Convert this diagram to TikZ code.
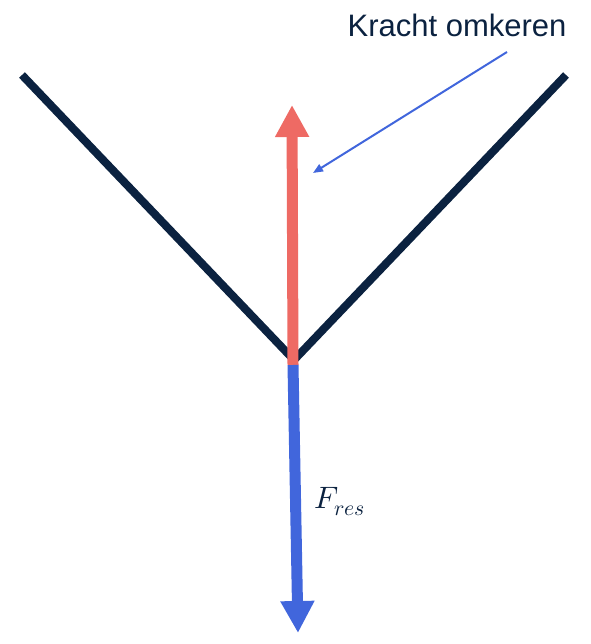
\documentclass[tikz,border=0pt]{standalone}
\usepackage{fontspec}
\usepackage{unicode-math}
\setmainfont{Liberation Sans}
\setmathfont{Latin Modern Math}
\usetikzlibrary{arrows.meta}
\definecolor{navy}{HTML}{0B2240}
\definecolor{redarrow}{HTML}{EE6A64}
\definecolor{bluearrow}{HTML}{4166DC}

\begin{document}
\begin{tikzpicture}[x=1pt,y=-1pt,
    force/.style={line width=11pt,-{Triangle[width=32pt,length=32pt]}},
    pointer/.style={line width=2pt,bluearrow,-{Triangle[width=8pt,length=10pt]}}]
    \useasboundingbox (0,0) rectangle (590,644);

 % Points of the V
    \coordinate (lefttop) at (22,75);
    \coordinate (righttop) at (566,75);
    \coordinate (vertex) at (294,360);

 % Draw the V
    \draw[navy,line width=8pt] (lefttop) -- (vertex) -- (righttop);

 % Forces
    \coordinate (redbase) at (293,365);
    \coordinate (redtip) at (292,105);
    \coordinate (bluetip) at (298,633);
    \draw[force,redarrow] (redbase) -- (redtip); % reversed force
    \draw[force,bluearrow] (redbase) -- (bluetip); % resultant force

 % Labels
    \node[navy,font=\fontsize{31}{36}\selectfont,anchor=base east] (label) at (570,37) {Kracht omkeren};
    \coordinate (pointstart) at (507,52);
    \coordinate (pointend) at (313,173);
    \draw[pointer] (pointstart) -- (pointend);
    \node[navy,font=\fontsize{31}{36}\selectfont,anchor=base west,inner sep=0pt] (fres) at (314,508) {$F_{res}$};

\end{tikzpicture}
\end{document}
